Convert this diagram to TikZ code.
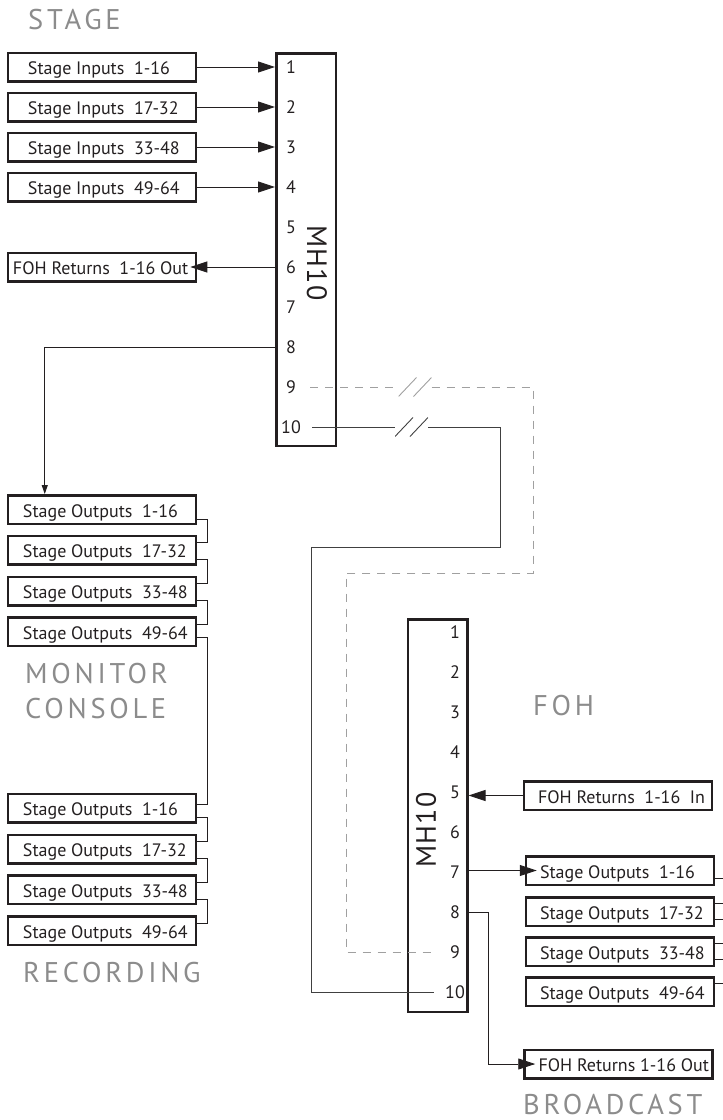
\documentclass[tikz,border=0pt]{standalone}
\usepackage{fontspec}
\setmainfont{PT Sans}
\newfontfamily\areafont[LetterSpace=13]{PT Sans}
\newfontfamily\namefont[LetterSpace=5]{PT Sans}
\usetikzlibrary{arrows.meta,positioning}
\definecolor{ink}{RGB}{35,31,32}
\definecolor{headgray}{RGB}{140,140,140}
\definecolor{dashgray}{RGB}{160,160,160}
\definecolor{trunkgray}{RGB}{64,64,64}
\newcommand\padded[2]{\makebox[188pt][l]{\hspace*{#1}#2}}
\tikzset{
  splitter/.style={draw=ink,line width=2.5pt,minimum width=59.5pt,minimum height=392.5pt,inner sep=0pt},
  patch/.style={draw=ink,line width=2.5pt,inner xsep=0pt,inner ysep=0pt,minimum height=28.5pt,
    text height=15pt,text depth=0pt,text=ink,font=\fontsize{18}{20}\selectfont},
  portno/.style={inner sep=0pt,text=ink,font=\fontsize{18}{20}\selectfont},
  area/.style={anchor=base west,inner sep=0pt,text=headgray,font=\areafont\fontsize{28.5}{30}\selectfont},
  mhname/.style={inner sep=0pt,text=ink,font=\namefont\fontsize{28}{30}\selectfont},
  wire/.style={draw=ink,line width=0.9pt},
  sig/.style={wire,-{Triangle[length=17pt,width=11pt]}},
  trunk/.style={draw=trunkgray,line width=0.9pt},
  spare/.style={draw=dashgray,line width=0.9pt,dash pattern=on 8pt off 7pt},
  cut/.style={minimum width=33pt,minimum height=22pt,inner sep=0pt,
    path picture={\foreach \dx in {-16.5,-1.5}
      \draw[line width=0.9pt,#1] ([xshift=\dx pt,yshift=-9.5pt]path picture bounding box.center) -- ++(18pt,19pt);}},
}

\begin{document}
\begin{tikzpicture}[x=1pt,y=-1pt]
\useasboundingbox (0,0) rectangle (723,1120);
% stage side splitter
\node[splitter] (mhA) at (306,249.5) {};
\foreach \i in {1,...,10}
  \node[portno] (a\i) at (291,27+40*\i) {\i};
\node[mhname,rotate=-90] (nameA) at (317,263) {MH10};
\node[area] (hStage) at (28,29) {STAGE};
\foreach \i/\r in {1/1-16,2/17-32,3/33-48,4/49-64} {
  \node[patch] (in\i) at (102,27+40*\i) {\padded{20pt}{Stage Inputs\ \ \r}};
  \draw[sig] (in\i.east) -- (in\i -| mhA.west);
}
\node[patch] (fohA) at (102,267) {\padded{5pt}{FOH Returns\ \ 1-16 Out}};
\draw[sig] (a6 -| mhA.west) -- ([xshift=-7pt]fohA.east);

% monitor console and recording
\foreach \i/\r/\y in {1/1-16/509.5,2/17-32/550,3/33-48/591,4/49-64/631.5}
  \node[patch] (mon\i) at (102,\y) {\padded{15pt}{Stage Outputs\ \ \r}};
\foreach \i/\r/\y in {1/1-16/808,2/17-32/849,3/33-48/889.5,4/49-64/930.5}
  \node[patch] (rec\i) at (102,\y) {\padded{15pt}{Stage Outputs\ \ \r}};
\node[area] (hMon) at (25,683) {MONITOR};
\node[area] (hCon) at (25,718) {CONSOLE};
\node[area] (hRec) at (23,982) {RECORDING};
\draw[wire,-{Triangle[length=9pt,width=6pt]}] (a8 -| mhA.west) -| ([xshift=38pt]mon1.north west);
\foreach \i/\j in {1/2,2/3,3/4} {
  \draw[wire] ([yshift=-9.5pt]mon\i.east) -- ++(10,0) |- ([yshift=7.5pt]mon\j.east);
  \draw[wire] ([yshift=-9.5pt]rec\i.east) -- ++(10,0) |- ([yshift=7.5pt]rec\j.east);
}
\draw[wire] ([yshift=-6pt]mon4.east) -- ++(10,0) |- ([yshift=4pt]rec1.east);

% foh side splitter
\node[splitter] (mhB) at (437.5,815.5) {};
\foreach \i in {1,...,10}
  \node[portno] (b\i) at (455,592+40*\i) {\i};
\node[mhname,rotate=90] (nameB) at (426,830) {MH10};
\node[area] (hFoh) at (533,715) {FOH};
\node[area] (hBro) at (523,1114) {BROADCAST};
\node[patch] (fin) at (618,795.5) {\padded{14pt}{FOH Returns\ \ 1-16\ \ In}};
\draw[sig] (fin.west) -- (fin.west -| mhB.east);
\foreach \i/\r/\y in {1/1-16/870.5,2/17-32/911.5,3/33-48/951.5,4/49-64/991.5}
  \node[patch] (so\i) at (620,\y) {\padded{14pt}{Stage Outputs\ \ \r}};
\foreach \i/\j in {1/2,2/3,3/4}
  \draw[wire] ([yshift=-8pt]so\i.east) -- ++(10,0) |- ([yshift=8pt]so\j.east);
\draw[sig] (so1.west -| mhB.east) -- ([xshift=12pt]so1.west);
\node[patch] (fout) at (618.5,1064) {\padded{14pt}{FOH Returns 1-16 Out}};
\draw[sig] (b8 -| mhB.east) -- ++(20,0) |- ([xshift=12pt]fout.west);

% multicore runs between the two splitters
\node[cut=trunkgray] (cutA) at (411.5,427) {};
\node[cut=dashgray] (cutB) at (415,387) {};
\coordinate (turnA) at (500,547);
\coordinate (turnB) at (311,992);
\coordinate (turnC) at (533,573);
\coordinate (turnD) at (346,952);
\draw[trunk] ([xshift=11pt]a10.east) -- (cutA.west);
\draw[trunk] (cutA.east) -| (turnA) -| (turnB) -- ([xshift=-11pt]b10.west);
\draw[spare] ([xshift=14pt]a9.east) -- (cutB.west);
\draw[spare] (cutB.east) -| (turnC) -| (turnD) -- ([xshift=-15pt]b9.west);
\end{tikzpicture}
\end{document}
